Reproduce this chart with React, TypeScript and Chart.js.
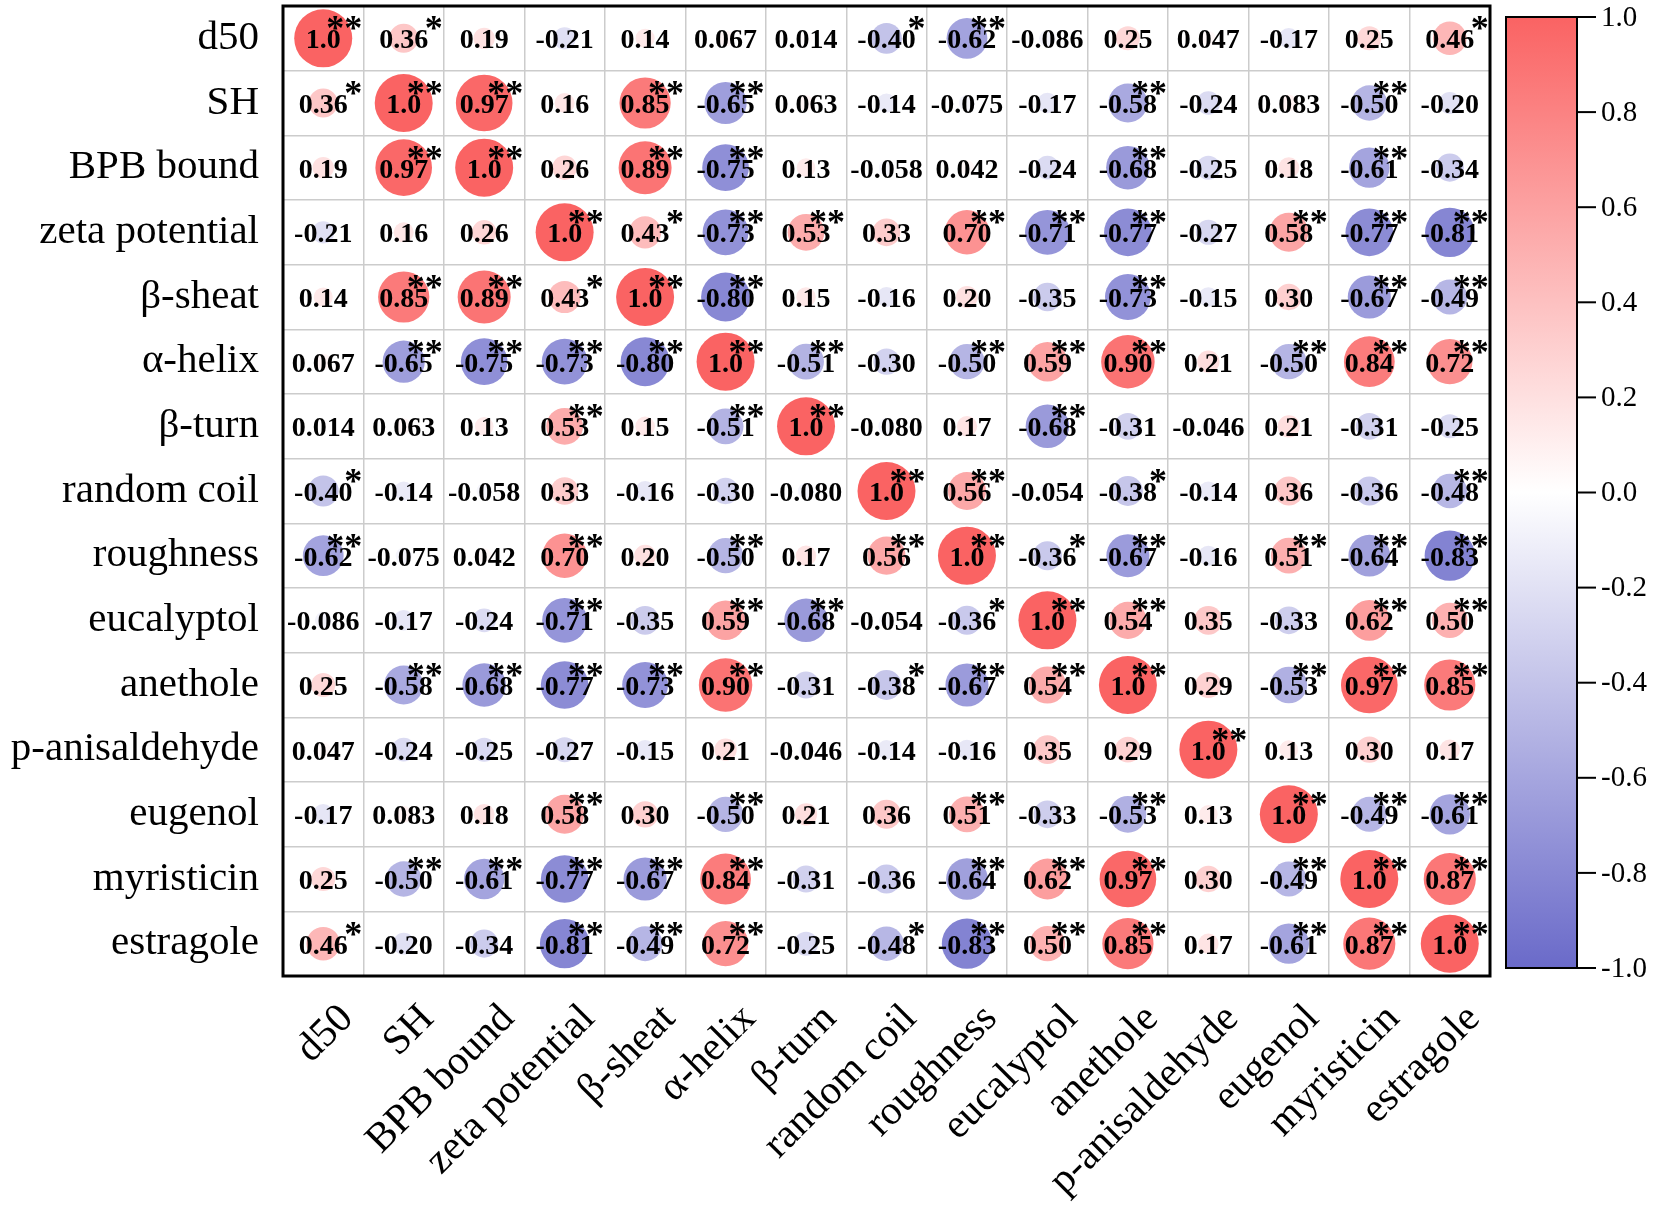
import React, { useEffect, useRef } from "react";
import { Chart, registerables } from "chart.js";

Chart.register(...registerables);

const variables = [
  "d50", "SH", "BPB bound", "zeta potential", "β-sheat", "α-helix", "β-turn",
  "random coil", "roughness", "eucalyptol", "anethole", "p-anisaldehyde",
  "eugenol", "myristicin", "estragole",
];

const rD50 = [1.0, 0.36, 0.19, -0.21, 0.14, 0.067, 0.014, -0.40, -0.62, -0.086, 0.25, 0.047, -0.17, 0.25, 0.46];
const rSH = [0.36, 1.0, 0.97, 0.16, 0.85, -0.65, 0.063, -0.14, -0.075, -0.17, -0.58, -0.24, 0.083, -0.50, -0.20];
const rBPB = [0.19, 0.97, 1.0, 0.26, 0.89, -0.75, 0.13, -0.058, 0.042, -0.24, -0.68, -0.25, 0.18, -0.61, -0.34];
const rZeta = [-0.21, 0.16, 0.26, 1.0, 0.43, -0.73, 0.53, 0.33, 0.70, -0.71, -0.77, -0.27, 0.58, -0.77, -0.81];
const rSheat = [0.14, 0.85, 0.89, 0.43, 1.0, -0.80, 0.15, -0.16, 0.20, -0.35, -0.73, -0.15, 0.30, -0.67, -0.49];
const rHelix = [0.067, -0.65, -0.75, -0.73, -0.80, 1.0, -0.51, -0.30, -0.50, 0.59, 0.90, 0.21, -0.50, 0.84, 0.72];
const rTurn = [0.014, 0.063, 0.13, 0.53, 0.15, -0.51, 1.0, -0.080, 0.17, -0.68, -0.31, -0.046, 0.21, -0.31, -0.25];
const rCoil = [-0.40, -0.14, -0.058, 0.33, -0.16, -0.30, -0.080, 1.0, 0.56, -0.054, -0.38, -0.14, 0.36, -0.36, -0.48];
const rRough = [-0.62, -0.075, 0.042, 0.70, 0.20, -0.50, 0.17, 0.56, 1.0, -0.36, -0.67, -0.16, 0.51, -0.64, -0.83];
const rEucal = [-0.086, -0.17, -0.24, -0.71, -0.35, 0.59, -0.68, -0.054, -0.36, 1.0, 0.54, 0.35, -0.33, 0.62, 0.50];
const rAneth = [0.25, -0.58, -0.68, -0.77, -0.73, 0.90, -0.31, -0.38, -0.67, 0.54, 1.0, 0.29, -0.53, 0.97, 0.85];
const rAnisal = [0.047, -0.24, -0.25, -0.27, -0.15, 0.21, -0.046, -0.14, -0.16, 0.35, 0.29, 1.0, 0.13, 0.30, 0.17];
const rEugen = [-0.17, 0.083, 0.18, 0.58, 0.30, -0.50, 0.21, 0.36, 0.51, -0.33, -0.53, 0.13, 1.0, -0.49, -0.61];
const rMyris = [0.25, -0.50, -0.61, -0.77, -0.67, 0.84, -0.31, -0.36, -0.64, 0.62, 0.97, 0.30, -0.49, 1.0, 0.87];
const rEstra = [0.46, -0.20, -0.34, -0.81, -0.49, 0.72, -0.25, -0.48, -0.83, 0.50, 0.85, 0.17, -0.61, 0.87, 1.0];

// significance: 0 none, 1 "*", 2 "**"
const sD50 = [2, 1, 0, 0, 0, 0, 0, 1, 2, 0, 0, 0, 0, 0, 1];
const sSH = [1, 2, 2, 0, 2, 2, 0, 0, 0, 0, 2, 0, 0, 2, 0];
const sBPB = [0, 2, 2, 0, 2, 2, 0, 0, 0, 0, 2, 0, 0, 2, 0];
const sZeta = [0, 0, 0, 2, 1, 2, 2, 0, 2, 2, 2, 0, 2, 2, 2];
const sSheat = [0, 2, 2, 1, 2, 2, 0, 0, 0, 0, 2, 0, 0, 2, 2];
const sHelix = [0, 2, 2, 2, 2, 2, 2, 0, 2, 2, 2, 0, 2, 2, 2];
const sTurn = [0, 0, 0, 2, 0, 2, 2, 0, 0, 2, 0, 0, 0, 0, 0];
const sCoil = [1, 0, 0, 0, 0, 0, 0, 2, 2, 0, 1, 0, 0, 0, 2];
const sRough = [2, 0, 0, 2, 0, 2, 0, 2, 2, 1, 2, 0, 2, 2, 2];
const sEucal = [0, 0, 0, 2, 0, 2, 2, 0, 1, 2, 2, 0, 0, 2, 2];
const sAneth = [0, 2, 2, 2, 2, 2, 0, 1, 2, 2, 2, 0, 2, 2, 2];
const sAnisal = [0, 0, 0, 0, 0, 0, 0, 0, 0, 0, 0, 2, 0, 0, 0];
const sEugen = [0, 0, 0, 2, 0, 2, 0, 0, 2, 0, 2, 0, 2, 2, 2];
const sMyris = [0, 2, 2, 2, 2, 2, 0, 0, 2, 2, 2, 0, 2, 2, 2];
const sEstra = [1, 0, 0, 2, 2, 2, 0, 1, 2, 2, 2, 0, 2, 2, 2];

const colorbarTicks = ["1.0", "0.8", "0.6", "0.4", "0.2", "0.0", "-0.2", "-0.4", "-0.6", "-0.8", "-1.0"];

const valueRows = [rD50, rSH, rBPB, rZeta, rSheat, rHelix, rTurn, rCoil, rRough, rEucal, rAneth, rAnisal, rEugen, rMyris, rEstra];
const sigRows = [sD50, sSH, sBPB, sZeta, sSheat, sHelix, sTurn, sCoil, sRough, sEucal, sAneth, sAnisal, sEugen, sMyris, sEstra];

const RED = [250, 99, 99];
const BLUE = [106, 106, 201];

function colorFor(v: number): string {
  const t = Math.min(1, Math.abs(v));
  const c = v >= 0 ? RED : BLUE;
  const r = Math.round(255 + (c[0] - 255) * t);
  const g = Math.round(255 + (c[1] - 255) * t);
  const b = Math.round(255 + (c[2] - 255) * t);
  return `rgb(${r},${g},${b})`;
}

const SERIF = '"Liberation Serif", "Times New Roman", serif';

const cellTextPlugin = {
  id: "cellText",
  afterDatasetsDraw(chart: any) {
    const { ctx, chartArea } = chart;
    const xs = chart.scales.x;
    const ys = chart.scales.y;
    ctx.save();
    ctx.fillStyle = "#000";
    valueRows.forEach((row, i) => {
      row.forEach((v, j) => {
        const cx = xs.getPixelForValue(j);
        const cy = ys.getPixelForValue(i);
        ctx.font = `bold 28px ${SERIF}`;
        ctx.textAlign = "center";
        ctx.textBaseline = "alphabetic";
        ctx.fillText(v.toPrecision(2), cx, cy + 10);
        const s = sigRows[i][j];
        if (s > 0) {
          ctx.font = `bold 36px ${SERIF}`;
          ctx.textAlign = "right";
          ctx.fillText(s === 2 ? "**" : "*", cx + 39, cy + 2);
        }
      });
    });
    // frame
    ctx.strokeStyle = "#000";
    ctx.lineWidth = 3;
    ctx.strokeRect(chartArea.left, chartArea.top, chartArea.right - chartArea.left, chartArea.bottom - chartArea.top);

    // colorbar
    const x0 = chartArea.right + 16;
    const x1 = x0 + 71;
    const yTop = chartArea.top + 11;
    const yBot = chartArea.bottom - 8;
    const grad = ctx.createLinearGradient(0, yTop, 0, yBot);
    grad.addColorStop(0, colorFor(1));
    grad.addColorStop(0.5, colorFor(0));
    grad.addColorStop(1, colorFor(-1));
    ctx.fillStyle = grad;
    ctx.fillRect(x0, yTop, x1 - x0, yBot - yTop);
    ctx.lineWidth = 2;
    ctx.strokeRect(x0, yTop, x1 - x0, yBot - yTop);
    ctx.fillStyle = "#000";
    ctx.font = `29px ${SERIF}`;
    ctx.textAlign = "left";
    ctx.textBaseline = "middle";
    colorbarTicks.forEach((lab) => {
      const v = parseFloat(lab);
      const y = yTop + ((1 - v) / 2) * (yBot - yTop);
      ctx.beginPath();
      ctx.moveTo(x1, y);
      ctx.lineTo(x1 + 19, y);
      ctx.stroke();
      ctx.fillText(lab, x1 + 24, y + 1);
    });
    ctx.restore();
  },
};

export default function App() {
  const canvasRef = useRef<HTMLCanvasElement | null>(null);

  useEffect(() => {
    if (!canvasRef.current) return;
    const points: any[] = [];
    valueRows.forEach((row, i) => {
      row.forEach((v, j) => {
        points.push({ x: variables[j], y: variables[i], r: 29 * (0.22 + 0.78 * Math.abs(v)), v });
      });
    });
    const chart = new Chart(canvasRef.current, {
      type: "bubble",
      data: {
        datasets: [
          {
            data: points,
            backgroundColor: (c: any) => colorFor(c.raw ? c.raw.v : 0),
            borderWidth: 0,
          },
        ],
      },
      options: {
        animation: false,
        responsive: true,
        maintainAspectRatio: false,
        events: [],
        layout: { autoPadding: false, padding: { top: 6, right: 169, bottom: 0, left: 0 } },
        plugins: { legend: { display: false }, tooltip: { enabled: false } },
        scales: {
          x: {
            type: "category",
            labels: variables,
            offset: true,
            grid: { offset: true, color: "#cccccc", lineWidth: 1.5, drawTicks: false },
            border: { display: false },
            ticks: {
              autoSkip: false,
              minRotation: 45,
              maxRotation: 45,
              labelOffset: 24,
              padding: 19,
              color: "#000",
              font: { family: SERIF, size: 41 },
            },
            afterFit: (s: any) => {
              s.height = 239;
              s.paddingLeft = 0;
              s.paddingRight = 0;
            },
          },
          y: {
            type: "category",
            labels: variables,
            offset: true,
            grid: { offset: true, color: "#cccccc", lineWidth: 1.5, drawTicks: false },
            border: { display: false },
            ticks: {
              autoSkip: false,
              padding: 24,
              color: "#000",
              font: { family: SERIF, size: 41, lineHeight: 0.1 },
            },
            afterFit: (s: any) => {
              s.width = 283;
              s.paddingTop = 0;
              s.paddingBottom = 0;
            },
          },
        },
      },
      plugins: [cellTextPlugin],
    } as any);
    return () => chart.destroy();
  }, []);

  return (
    <div style={{ position: "absolute", left: 0, top: 0, width: 1659, height: 1215, background: "#fff" }}>
      <canvas ref={canvasRef} />
    </div>
  );
}
